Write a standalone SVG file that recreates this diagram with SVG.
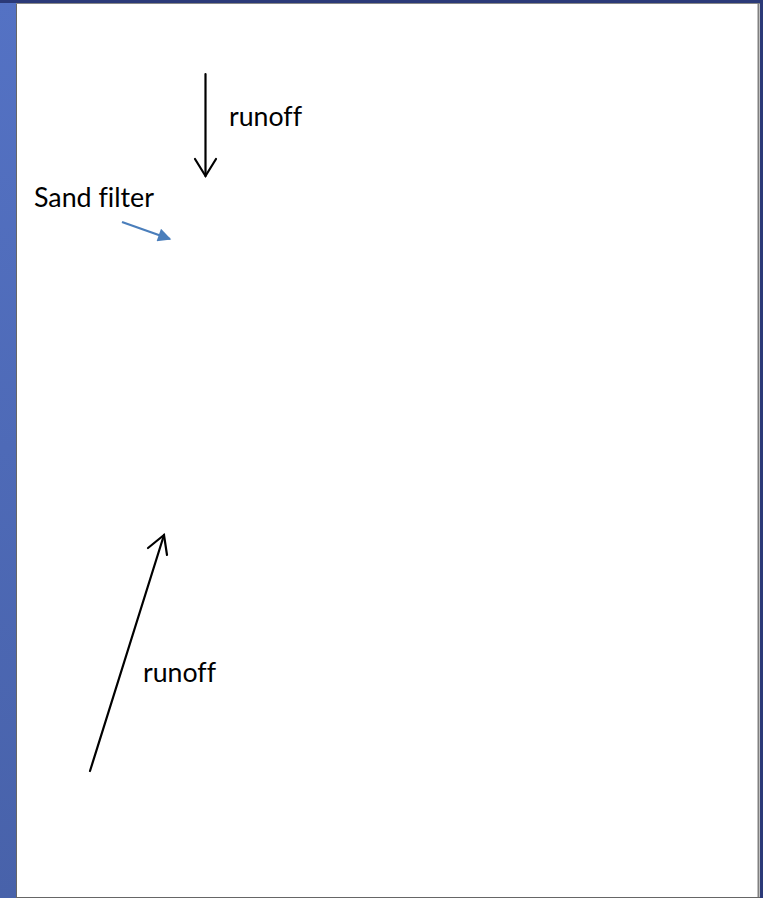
<svg xmlns="http://www.w3.org/2000/svg" width="763" height="898" viewBox="0 0 763 898">
  <defs>
    <linearGradient id="sideBand" x1="0" y1="0" x2="0" y2="1">
      <stop offset="0" stop-color="#5472c4"/>
      <stop offset="1" stop-color="#4862aa"/>
    </linearGradient>
    <marker id="blueHead" viewBox="0 0 10 10" refX="9" refY="5" markerWidth="8" markerHeight="6" markerUnits="strokeWidth" orient="auto">
      <path d="M0,0 L10,5 L0,10 Z" fill="#4a7ebb"/>
    </marker>
    <style>
      .label { font-family: Lato, "Open Sans", "Liberation Sans", sans-serif; font-size: 26px; fill: #000; font-variant-ligatures: none; }
      .flow { fill: none; stroke: #000; stroke-width: 2.2; stroke-linecap: round; stroke-linejoin: miter; }
      .pointer { fill: none; stroke: #4a7ebb; stroke-width: 2.2; }
    </style>
  </defs>

  <!-- page frame -->
  <rect x="0" y="0" width="763" height="898" fill="#ffffff"/>
  <rect x="0" y="0" width="16" height="898" fill="url(#sideBand)"/>
  <rect x="0" y="0" width="763" height="3" fill="#2b3a78"/>
  <rect x="760" y="0" width="3" height="898" fill="#2b3a78"/>
  <line x1="16.5" y1="3" x2="16.5" y2="898" stroke="#666" stroke-width="1"/>
  <line x1="16" y1="3.5" x2="760" y2="3.5" stroke="#888" stroke-width="1"/>
  <line x1="758.5" y1="3" x2="758.5" y2="898" stroke="#808080" stroke-width="2"/>
  <line x1="16" y1="897.5" x2="760" y2="897.5" stroke="#666" stroke-width="1"/>

  <g id="connectors">
    <!-- inflow from above -->
    <path class="flow" d="M205.5,74 L205.5,176"/>
    <path class="flow" d="M195,159 L205.5,176 L216,159"/>
    <!-- inflow from below -->
    <path class="flow" d="M90,771 L164,535"/>
    <path class="flow" d="M148,548 L164,535 L167,555"/>
    <!-- pointer to the filter -->
    <line class="pointer" x1="122" y1="222" x2="170" y2="239" marker-end="url(#blueHead)"/>
  </g>

  <g id="label-runoff-top">
    <text class="label" x="229" y="126" textLength="73" lengthAdjust="spacingAndGlyphs">runoff</text>
  </g>
  <g id="label-sand-filter">
    <text class="label" x="34" y="207" textLength="120" lengthAdjust="spacingAndGlyphs">Sand filter</text>
  </g>
  <g id="label-runoff-bottom">
    <text class="label" x="143" y="682" textLength="73" lengthAdjust="spacingAndGlyphs">runoff</text>
  </g>
</svg>
